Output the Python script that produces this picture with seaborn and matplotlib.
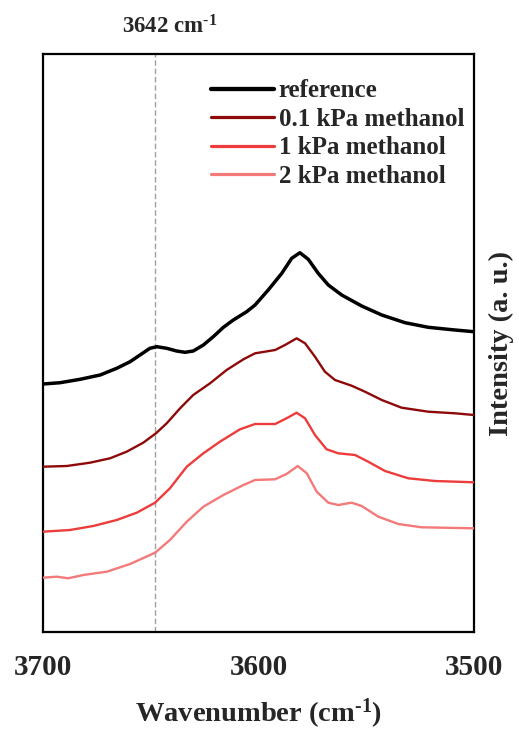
import numpy as np
import pandas as pd
import matplotlib
matplotlib.use("Agg")
import matplotlib.pyplot as plt
import seaborn as sns

# ---- data (arbitrary intensity units) ----
wn_ref = [3700, 3692.1, 3682.8, 3673.5, 3665.8, 3659.6, 3655, 3650.4, 3647.2, 3642.6,
          3638, 3634.1, 3630.3, 3625.6, 3621, 3616.3, 3611.7, 3605.5, 3601.6, 3595.5,
          3589.2, 3584.6, 3580.8, 3576.9, 3572.3, 3567.6, 3561.4, 3552.1, 3542.8,
          3532, 3521.2, 3508.8, 3500]
int_ref = [248, 249.3, 252.7, 257, 263.7, 270.3, 277, 283.7, 285.3, 283.7,
           281, 279.7, 281, 287, 295.3, 304.7, 312, 320.3, 327, 342,
           358.7, 373.7, 379.3, 372.7, 358.7, 347, 337, 326, 317,
           309.3, 304.7, 302, 300.3]

wn_01 = [3700, 3689, 3678.2, 3668.9, 3661.2, 3653.5, 3647.6, 3642.6, 3636.4, 3630.3,
         3622.5, 3614.8, 3607, 3601.6, 3592.3, 3587.7, 3582.3, 3578.4, 3573.8,
         3569.2, 3564.5, 3556.8, 3550.6, 3542.8, 3533.6, 3521.2, 3508.8, 3500]
int_01 = [165.3, 166, 169.3, 173.7, 180.3, 189.3, 198.7, 208.7, 223.7, 237,
          248.7, 262, 272.7, 278.7, 282, 287, 293.7, 288.7, 275.3,
          260.3, 252, 246.3, 240.3, 232, 224.3, 220.3, 218.7, 217]

wn_1 = [3700, 3687.5, 3676.7, 3665.8, 3656.5, 3648, 3641.1, 3633.3, 3625.6, 3617.9,
        3608.6, 3601.6, 3592.3, 3587, 3582.3, 3578.4, 3573.8, 3568.4, 3563,
        3555.2, 3549.1, 3541.3, 3530.5, 3518.1, 3500]
int_1 = [100.3, 102, 106, 112, 119.3, 129.3, 143.7, 165.3, 178.7, 190.3,
         202.7, 208, 208, 213.7, 219.3, 213.7, 197, 182.7, 178.7,
         177, 170.3, 161, 153.7, 151, 149.7]

wn_2 = [3700, 3693.6, 3688.3, 3681.3, 3670.4, 3659.6, 3648, 3641.1, 3633.3, 3625.6,
        3616.3, 3607, 3601.6, 3592.3, 3587, 3581.8, 3577.6, 3573, 3567.6, 3563,
        3556.8, 3552.1, 3544.4, 3535.1, 3524.3, 3500]
int_2 = [54.3, 55.3, 53.7, 57, 60.3, 68, 79.3, 92, 110.3, 125.3,
         137, 147, 152, 152.7, 158, 166, 158.7, 140.3, 129.3, 127,
         129.3, 126, 115.3, 108, 104.7, 103.7]

series_names = ["reference", "0.1 kPa methanol", "1 kPa methanol", "2 kPa methanol"]
series_colors = ["#000000", "#8e0a0a", "#ee3b3b", "#f47a7a"]
series_widths = [2.5, 1.7, 1.7, 1.7]
marker_wn = 3648
marker_label = "3642 cm$^{\\text{-1}}$"

frames = []
for name, wn, iv in zip(series_names, [wn_ref, wn_01, wn_1, wn_2],
                        [int_ref, int_01, int_1, int_2]):
    frames.append(pd.DataFrame({"wn": wn, "I": iv, "sample": name}))
df = pd.concat(frames, ignore_index=True)

sns.set_style("white")
plt.rcParams["font.family"] = ["Liberation Serif", "DejaVu Serif"]
plt.rcParams["font.weight"] = "bold"
plt.rcParams["mathtext.fontset"] = "custom"
plt.rcParams["mathtext.rm"] = "Liberation Serif:bold"
plt.rcParams["mathtext.default"] = "rm"

fig = plt.figure(figsize=(5.19, 7.33), dpi=100)
ax = fig.add_axes([0.0829, 0.1378, 0.8304, 0.7885])

ax.axvline(marker_wn, color="#a0a0a0", lw=1.0, ls=(0, (4, 2)), zorder=1)

for name, col, lw in zip(series_names, series_colors, series_widths):
    sns.lineplot(data=df[df["sample"] == name], x="wn", y="I", color=col,
                 lw=lw, label=name, ax=ax, sort=False, zorder=3,
                 solid_joinstyle="round", solid_capstyle="round")

ax.set_xlim(3700, 3500)
ax.set_ylim(0, 578)
ax.set_xticks([3700, 3600, 3500])
ax.set_yticks([])
ax.tick_params(axis="x", direction="in", length=6.5, width=1.5, pad=16,
               labelsize=21, color="black", top=False)
for lab in ax.get_xticklabels():
    lab.set_fontweight("bold")
for s in ax.spines.values():
    s.set_visible(True)
    s.set_color("black")
    s.set_linewidth(1.6)

ax.set_xlabel("Wavenumber (cm$^{\\text{-1}}$)", fontsize=20.5, fontweight="bold", labelpad=11)
ax.yaxis.set_label_position("right")
ax.set_ylabel("Intensity (a. u.)", fontsize=20.5, fontweight="bold", labelpad=11)

ax.text(0.295, 1.036, marker_label, transform=ax.transAxes,
        ha="center", va="baseline", fontsize=16.5, fontweight="bold")

leg = ax.legend(loc="upper right", bbox_to_anchor=(1.012, 0.982), frameon=False,
                fontsize=18, handlelength=2.5, handletextpad=0.2,
                labelspacing=0.22, borderaxespad=0.2)
for t in leg.get_texts():
    t.set_fontweight("bold")
for h, lw in zip(leg.get_lines(), series_widths):
    h.set_linewidth(lw + 0.6)

fig.savefig("out.png", dpi=100)
